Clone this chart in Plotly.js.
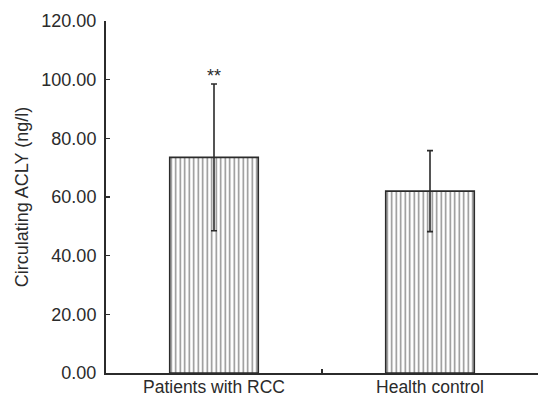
<!DOCTYPE html>
<html>
<head>
<meta charset="utf-8">
<script src="https://cdn.plot.ly/plotly-3.0.1.min.js"></script>
<style>html,body{margin:0;padding:0;background:#fff;}#chart{width:539px;height:398px;}</style>
</head>
<body>
<div id="chart"></div>
<script>
const categories = ['Patients with RCC', 'Health control'];
const meanValues = [73.5, 62.0];
const sdValues = [25.0, 13.8];
const significance = ['**', ''];
const yTickVals = [0, 20, 40, 60, 80, 100, 120];

const FONT = 'Liberation Sans, Arial, sans-serif';
const DARK = '#2b2b2b';

const trace = {
  type: 'bar',
  x: categories,
  y: meanValues,
  width: 0.41,
  marker: {
    color: '#ffffff',
    line: {color: DARK, width: 1.6},
    pattern: {shape: '|', size: 4.5, solidity: 0.32, fgcolor: '#8a8a8a', bgcolor: '#ffffff'}
  },
  error_y: {type: 'data', array: sdValues, visible: true, color: DARK, thickness: 1.6, width: 3},
  hoverinfo: 'skip'
};

const annotations = categories.map((c, i) => ({
  x: c, y: meanValues[i] + sdValues[i], xref: 'x', yref: 'y',
  text: significance[i], showarrow: false, yanchor: 'bottom', yshift: -4,
  font: {family: FONT, size: 18, color: DARK}
})).filter(a => a.text);

const layout = {
  width: 539, height: 398,
  margin: {l: 106, r: 1, t: 21, b: 25},
  paper_bgcolor: '#ffffff', plot_bgcolor: '#ffffff',
  showlegend: false,
  font: {family: FONT, size: 18, color: DARK},
  xaxis: {
    type: 'category', range: [-0.5, 1.5],
    showline: true, linecolor: DARK, linewidth: 2,
    ticks: 'inside', tickson: 'boundaries', ticklen: 4, tickwidth: 1.5, tickcolor: DARK,
    showgrid: false, zeroline: false,
    tickfont: {family: FONT, size: 17.5, color: DARK},
    ticklabelstandoff: -3
  },
  yaxis: {
    range: [0, 120], tickvals: yTickVals, tickformat: '.2f',
    showline: true, linecolor: DARK, linewidth: 2,
    ticks: 'inside', ticklen: 4, tickwidth: 1.5, tickcolor: DARK,
    showgrid: false, zeroline: false,
    tickfont: {family: FONT, size: 18, color: DARK},
    ticklabelstandoff: 4,
    title: {text: 'Circulating ACLY (ng/l)', font: {family: FONT, size: 18, color: DARK}, standoff: 8}
  },
  annotations: annotations
};

Plotly.newPlot('chart', [trace], layout, {displayModeBar: false, staticPlot: true});
</script>
</body>
</html>
